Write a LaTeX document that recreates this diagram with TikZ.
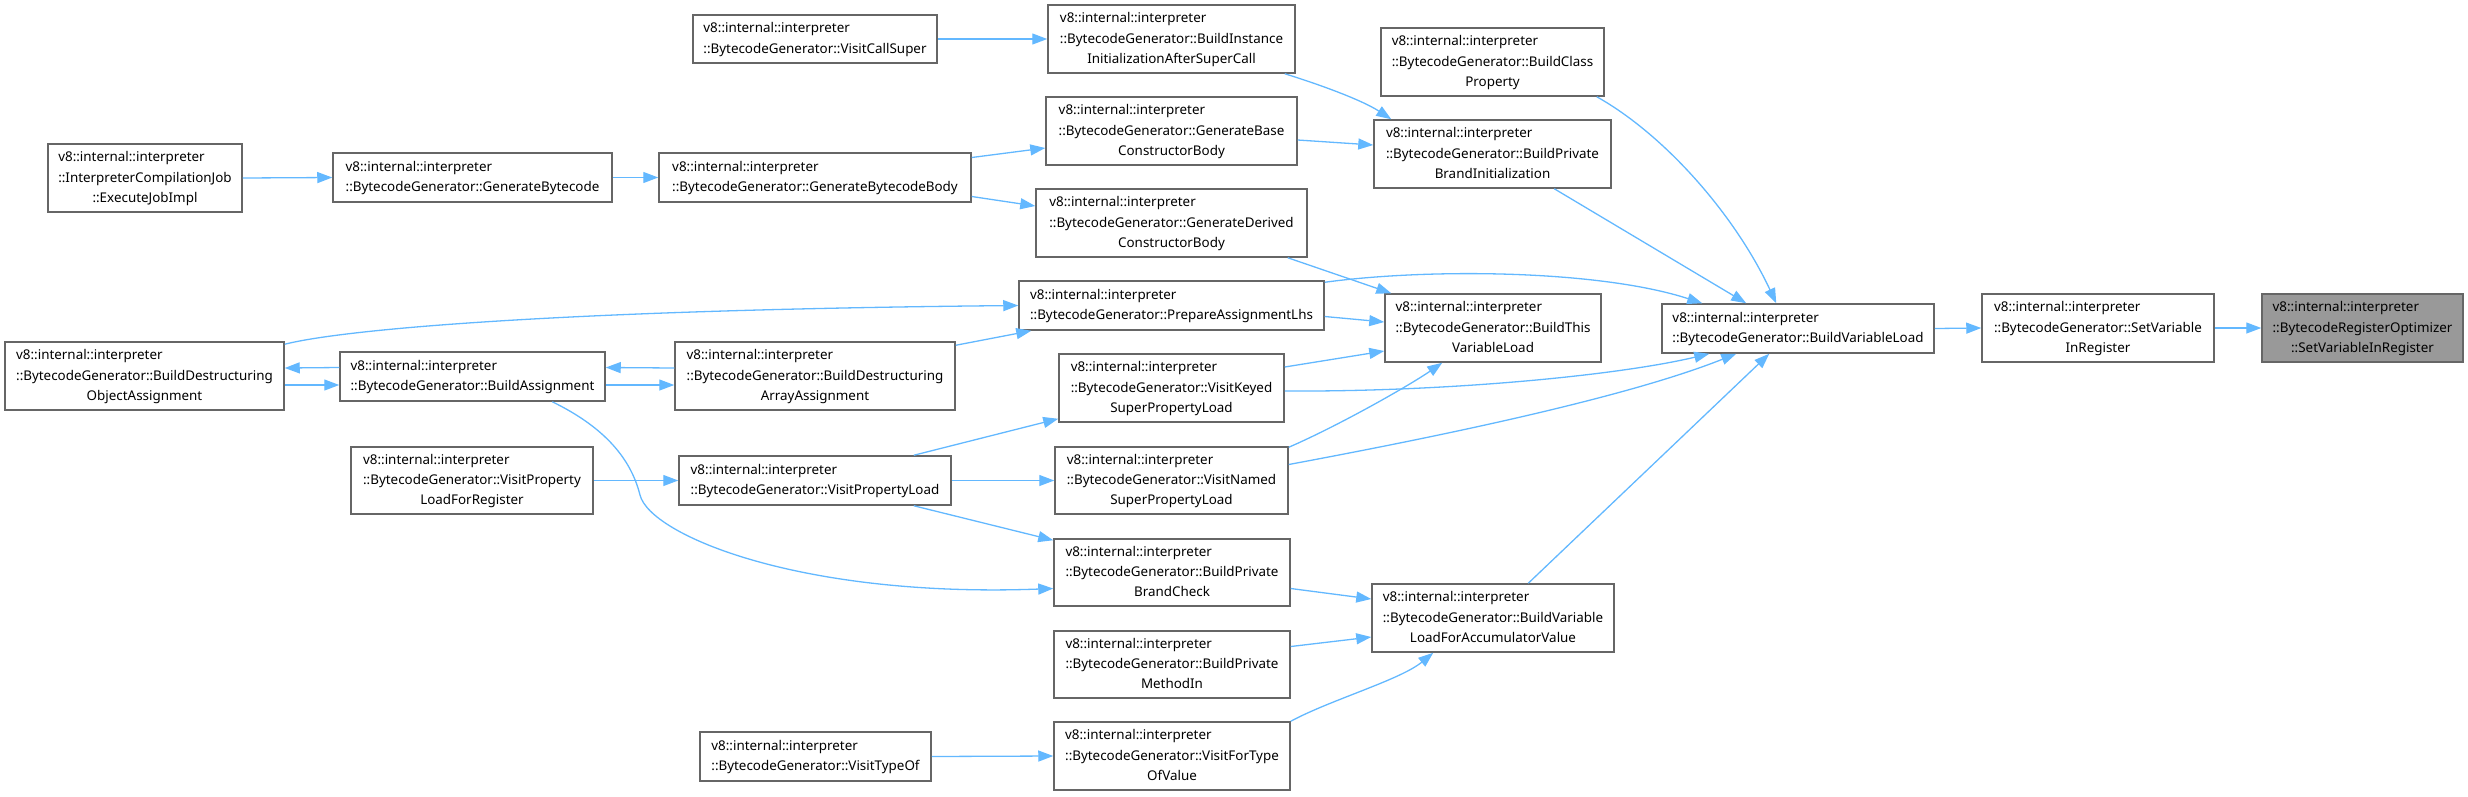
\documentclass[tikz,border=0pt]{standalone}
\usepackage{fontspec}
\setmainfont{Noto Sans}
\usetikzlibrary{arrows.meta,calc}
\definecolor{edgeblue}{HTML}{63B8FF}
\definecolor{boxgray}{HTML}{666666}
\definecolor{targetfill}{HTML}{999999}
\newcommand\twoln[2]{\begin{tabular}{@{}l@{}}#1\\#2\end{tabular}}
\newcommand\threeln[3]{\begin{tabular}{@{}l@{}}#1\\#2\\\multicolumn{1}{@{}c@{}}{#3}\end{tabular}}
\newcommand\vii{v8::internal::interpreter}
\begin{document}
\begin{tikzpicture}[x=1pt,y=-1pt,
  fn/.style={draw=boxgray, line width=1.5pt, fill=white, inner sep=0pt, anchor=center,
    font=\fontsize{13.4}{20.2}\selectfont},
  edge/.style={draw=edgeblue, line width=1.3pt, -{Triangle[length=15pt,width=11pt]}}]
\useasboundingbox (0,0) rectangle (2468,796);
% nodes
\node[fn, minimum width=244pt, minimum height=48pt] (A) at (815,39) {\twoln{\vii}{::BytecodeGenerator::VisitCallSuper}};
\node[fn, minimum width=247pt, minimum height=68pt] (B) at (1171.5,39) {\threeln{\vii}{::BytecodeGenerator::BuildInstance}{InitializationAfterSuperCall}};
\node[fn, minimum width=223pt, minimum height=68pt] (C) at (1492.5,62) {\threeln{\vii}{::BytecodeGenerator::BuildClass}{Property}};
\node[fn, minimum width=251pt, minimum height=68pt] (D) at (1171.5,131) {\threeln{\vii}{::BytecodeGenerator::GenerateBase}{ConstructorBody}};
\node[fn, minimum width=237pt, minimum height=68pt] (E) at (1492.5,154) {\threeln{\vii}{::BytecodeGenerator::BuildPrivate}{BrandInitialization}};
\node[fn, minimum width=194pt, minimum height=68pt] (F) at (145,178) {\threeln{\vii}{::InterpreterCompilationJob}{::ExecuteJobImpl}};
\node[fn, minimum width=279pt, minimum height=49pt] (G) at (472.5,177.5) {\twoln{\vii}{::BytecodeGenerator::GenerateBytecode}};
\node[fn, minimum width=312pt, minimum height=49pt] (H) at (815,177.5) {\twoln{\vii}{::BytecodeGenerator::GenerateBytecodeBody}};
\node[fn, minimum width=271pt, minimum height=68pt] (I) at (1171.5,223) {\threeln{\vii}{::BytecodeGenerator::GenerateDerived}{ConstructorBody}};
\node[fn, minimum width=305pt, minimum height=49pt] (J) at (1171.5,305.5) {\twoln{\vii}{::BytecodeGenerator::PrepareAssignmentLhs}};
\node[fn, minimum width=216pt, minimum height=68pt] (K) at (1493,328) {\threeln{\vii}{::BytecodeGenerator::BuildThis}{VariableLoad}};
\node[fn, minimum width=272pt, minimum height=49pt] (L) at (1798,328.5) {\twoln{\vii}{::BytecodeGenerator::BuildVariableLoad}};
\node[fn, minimum width=232pt, minimum height=68pt] (M) at (2098,328) {\threeln{\vii}{::BytecodeGenerator::SetVariable}{InRegister}};
\node[fn, fill=targetfill, minimum width=201pt, minimum height=68pt] (N) at (2362.5,328) {\threeln{\vii}{::BytecodeRegisterOptimizer}{::SetVariableInRegister}};
\node[fn, minimum width=279pt, minimum height=68pt] (O) at (144.5,376) {\threeln{\vii}{::BytecodeGenerator::BuildDestructuring}{ObjectAssignment}};
\node[fn, minimum width=265pt, minimum height=49pt] (P) at (472.5,376.5) {\twoln{\vii}{::BytecodeGenerator::BuildAssignment}};
\node[fn, minimum width=280pt, minimum height=68pt] (Q) at (815,376) {\threeln{\vii}{::BytecodeGenerator::BuildDestructuring}{ArrayAssignment}};
\node[fn, minimum width=225pt, minimum height=68pt] (R) at (1171.5,388) {\threeln{\vii}{::BytecodeGenerator::VisitKeyed}{SuperPropertyLoad}};
\node[fn, minimum width=242pt, minimum height=67pt] (S) at (472,480.5) {\threeln{\vii}{::BytecodeGenerator::VisitProperty}{LoadForRegister}};
\node[fn, minimum width=272pt, minimum height=49pt] (T) at (815,480.5) {\twoln{\vii}{::BytecodeGenerator::VisitPropertyLoad}};
\node[fn, minimum width=233pt, minimum height=67pt] (U) at (1171.5,480.5) {\threeln{\vii}{::BytecodeGenerator::VisitNamed}{SuperPropertyLoad}};
\node[fn, minimum width=236pt, minimum height=67pt] (V) at (1172,572.5) {\threeln{\vii}{::BytecodeGenerator::BuildPrivate}{BrandCheck}};
\node[fn, minimum width=242pt, minimum height=68pt] (W) at (1493,618) {\threeln{\vii}{::BytecodeGenerator::BuildVariable}{LoadForAccumulatorValue}};
\node[fn, minimum width=236pt, minimum height=67pt] (X) at (1172,664.5) {\threeln{\vii}{::BytecodeGenerator::BuildPrivate}{MethodIn}};
\node[fn, minimum width=231pt, minimum height=49pt] (Y) at (815.5,756.5) {\twoln{\vii}{::BytecodeGenerator::VisitTypeOf}};
\node[fn, minimum width=236pt, minimum height=68pt] (Z) at (1172,756) {\threeln{\vii}{::BytecodeGenerator::VisitForType}{OfValue}};
% edges
\draw[edge] (A.east) -- (B.west);
\draw[edge] ($(B.south east)+(-11,0)$) .. controls (1318,84) and (1362,100) .. ($(E.north west)+(18,0)$);
\draw[edge] ($(C.south east)+(-8,0)$) .. controls (1665,135) and (1735,215) .. ($(L.north west)+(115,0)$);
\draw[edge] ($(D.east)+(0,9)$) -- ($(E.west)+(0,-9)$);
\draw[edge] ($(E.south west)+(181,0)$) -- ($(L.north west)+(85,0)$);
\draw[edge] (F.east) -- (G.west);
\draw[edge] (G.east) -- (H.west);
\draw[edge] ($(H.east)+(0,-20)$) -- ($(D.west)+(0,17)$);
\draw[edge] ($(H.east)+(0,19)$) -- ($(I.west)+(0,-17)$);
\draw[edge] ($(I.south east)+(-20,0)$) -- ($(K.north west)+(7,0)$);
\draw[edge] ($(J.north east)+(0,2)$) .. controls (1430,268) and (1600,270) .. ($(L.north west)+(41,0)$);
\draw[edge] ($(J.east)+(0,11)$) -- ($(K.west)+(0,-6)$);
\draw[edge] ($(O.north east)+(0,3)$) .. controls (340,330) and (550,310) .. (J.west);
\draw[edge] ($(Q.north east)+(0,4)$) -- ($(J.south west)+(13,0)$);
\draw[edge] ($(P.west)+(0,-9)$) -- ($(O.east)+(0,-8)$);
\draw[edge] ($(O.east)+(0,9)$) -- ($(P.west)+(0,8.5)$);
\draw[edge] ($(Q.west)+(0,-8)$) -- ($(P.east)+(0,-9)$);
\draw[edge] ($(P.east)+(0,8.5)$) -- ($(Q.west)+(0,9)$);
\draw[edge] ($(P.south west)+(213,0)$) .. controls (600,425) and (630,455) .. (640,495) .. controls (650,535) and (800,598) .. ($(V.west)+(0,16)$);
\draw[edge] ($(R.east)+(0,-21)$) -- ($(K.west)+(0,23)$);
\draw[edge] ($(R.east)+(0,3)$) .. controls (1450,392) and (1620,375) .. ($(L.south west)+(48,0)$);
\draw[edge] (S.east) -- (T.west);
\draw[edge] ($(T.north east)+(-38,0)$) -- ($(R.south west)+(0,-4)$);
\draw[edge] (T.east) -- (U.west);
\draw[edge] ($(T.south east)+(-38,0)$) -- ($(V.north west)+(0,2)$);
\draw[edge] ($(U.north east)+(0,1)$) .. controls (1340,425) and (1410,385) .. ($(K.south west)+(58,0)$);
\draw[edge] ($(U.east)+(0,-16)$) .. controls (1420,440) and (1620,400) .. ($(L.south west)+(75,0)$);
\draw[edge] ($(V.east)+(0,16)$) -- ($(W.west)+(0,-19)$);
\draw[edge] ($(W.north west)+(157,0)$) -- ($(L.south west)+(108,0)$);
\draw[edge] ($(X.east)+(0,-18)$) -- ($(W.west)+(0,19)$);
\draw[edge] (Y.east) -- (Z.west);
\draw[edge] (Z.north east) .. controls (1330,700) and (1400,680) .. ($(W.south west)+(62,0)$);
\draw[edge] (L.east) -- (M.west);
\draw[edge] (M.east) -- (N.west);
\end{tikzpicture}
\end{document}
